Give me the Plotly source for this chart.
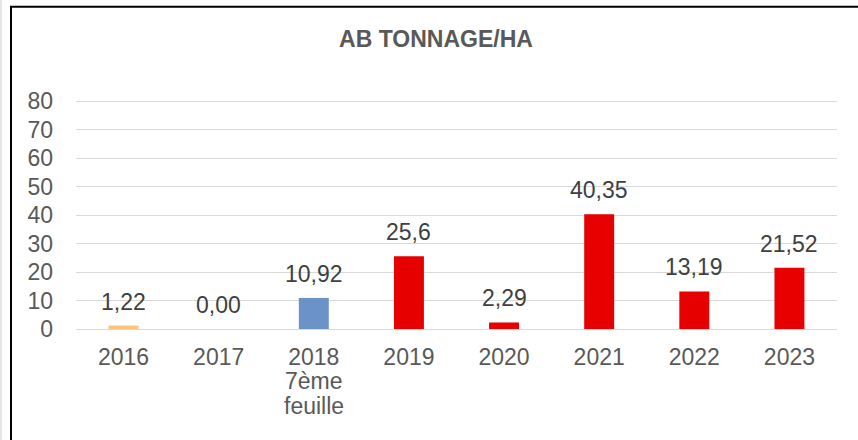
import plotly.graph_objects as go

categories = ["2016", "2017", "2018<br>7ème<br>feuille", "2019", "2020", "2021", "2022", "2023"]
values = [1.22, 0.00, 10.92, 25.6, 2.29, 40.35, 13.19, 21.52]
value_labels = ["1,22", "0,00", "10,92", "25,6", "2,29", "40,35", "13,19", "21,52"]
bar_colors = ["#F9C57A", "#E60000", "#6B93C9", "#E60000", "#E60000", "#E60000", "#E60000", "#E60000"]
y_ticks = [0, 10, 20, 30, 40, 50, 60, 70, 80]

FONT = "Liberation Sans, Arial, sans-serif"
GREY = "#595959"
FS = 23

PLOT_H = 229.9

fig = go.Figure()
fig.add_trace(go.Bar(
    x=categories,
    y=values,
    marker=dict(color=bar_colors, line=dict(width=0)),
    width=0.315,
    hoverinfo="skip",
))

for i, (v, lab) in enumerate(zip(values, value_labels)):
    fig.add_annotation(
        x=i, y=v, xref="x", yref="y",
        text=lab, showarrow=False,
        yanchor="bottom", yshift=9,
        font=dict(family=FONT, size=FS, color="#404040"),
    )

# first line of each category is the tick label; extra lines as tighter-spaced text
tick_text = [c.split("<br>")[0] for c in categories]
for i, c in enumerate(categories):
    for k, line in enumerate(c.split("<br>")[1:]):
        fig.add_annotation(
            x=i, xref="x", yref="paper",
            y=(329.5 - (381.5 + 25 * k)) / PLOT_H, yanchor="middle",
            text=line, showarrow=False,
            font=dict(family=FONT, size=FS, color=GREY),
        )

# chart border (decoration)
fig.add_shape(type="rect", xref="paper", yref="paper",
              x0=(11 - 76) / 761, x1=1.2, y0=-1.0, y1=(329.5 - 6) / PLOT_H,
              line=dict(color="#000000", width=2), fillcolor="rgba(0,0,0,0)", layer="above")
fig.add_shape(type="line", xref="paper", yref="paper",
              x0=(1 - 76) / 761, x1=(1 - 76) / 761, y0=-1.0, y1=2.0,
              line=dict(color="#E6E6E6", width=2), layer="above")

fig.update_layout(
    width=858, height=440,
    margin=dict(l=76, r=21, t=99.6, b=110.5, autoexpand=False),
    paper_bgcolor="white", plot_bgcolor="white",
    showlegend=False,
    title=dict(
        text="<b>AB TONNAGE/HA</b>",
        x=436 / 858, xanchor="center", xref="container",
        y=1 - 39 / 440, yanchor="middle", yref="container",
        font=dict(family=FONT, size=FS, color=GREY),
    ),
    font=dict(family=FONT, size=FS, color=GREY),
    xaxis=dict(
        type="category",
        categoryorder="array", categoryarray=categories,
        tickmode="array", tickvals=categories, ticktext=tick_text,
        range=[-0.5, len(categories) - 0.5],
        showgrid=False,
        showline=False,
        ticks="",
        automargin=False,
        tickfont=dict(family=FONT, size=FS, color=GREY),
        ticklabelstandoff=12,
    ),
    yaxis=dict(
        range=[0, 80.5],
        tickvals=y_ticks,
        automargin=False,
        showgrid=True, gridcolor="#D9D9D9", gridwidth=1.3,
        zeroline=True, zerolinecolor="#D9D9D9", zerolinewidth=1.3,
        showline=False, ticks="",
        tickfont=dict(family=FONT, size=FS, color=GREY),
        ticklabelstandoff=22,
    ),
)

fig.write_html("out.html", config={"displayModeBar": False},
               post_script="document.body.style.margin='0';")
